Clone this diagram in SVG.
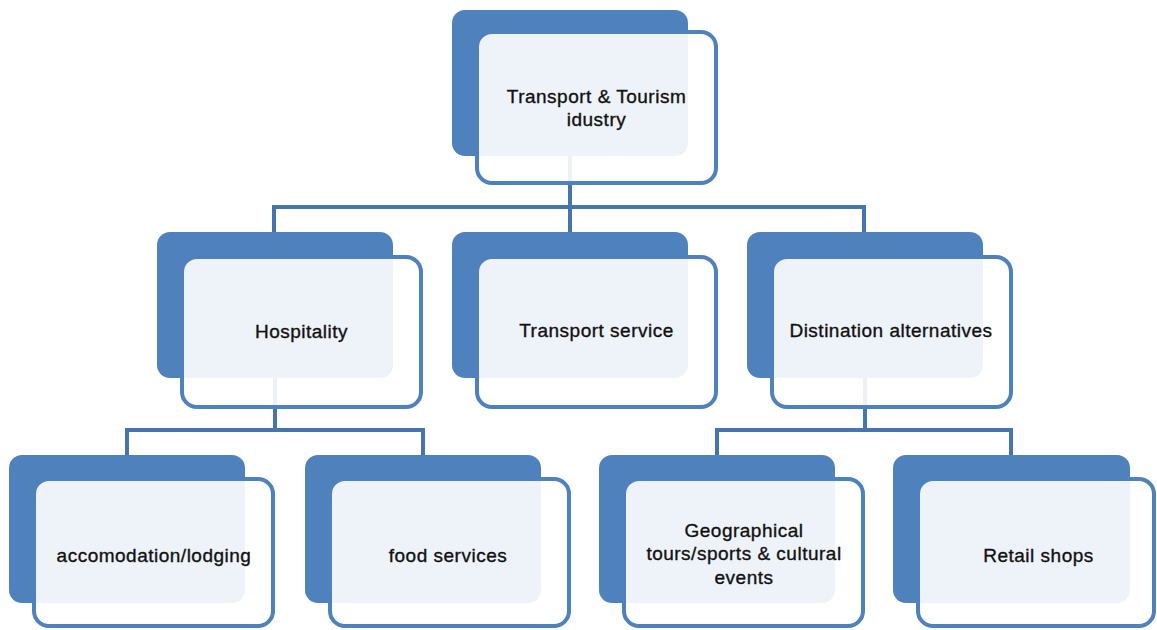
<svg xmlns="http://www.w3.org/2000/svg" width="1157" height="630" viewBox="0 0 1157 630">
<style>
.back{fill:#4F81BD;}
.front{fill:#FFFFFF;fill-opacity:0.9;stroke:#4F81BD;stroke-width:4;}
.conn{fill:none;stroke:#4674AC;stroke-width:4;}
.lbl{font-family:"Liberation Sans",Arial,sans-serif;font-size:19px;letter-spacing:0.5px;fill:#111111;stroke:#111111;stroke-width:0.35;text-anchor:middle;dominant-baseline:central;}
</style>
<rect width="1157" height="630" fill="#FFFFFF"/>
<g id="connectors">
<path class="conn" d="M570,156 V207 M272,207 H866 M274,207 V232 M570,207 V232 M864,207 V232"/>
<path class="conn" d="M275,378 V430 M125,430 H425 M127,430 V455 M423,430 V455"/>
<path class="conn" d="M865,378 V430 M715,430 H1013 M717,430 V455 M1011,430 V455"/>
</g>
<g id="n-top">
<rect class="back" x="452" y="10" width="236" height="146" rx="13"/>
<rect class="front" x="477" y="32" width="239" height="151" rx="15"/>
<text class="lbl" x="596.5" y="96">Transport &amp; Tourism</text>
<text class="lbl" x="596.5" y="119">idustry</text>
</g>
<g id="n-hospitality">
<rect class="back" x="157" y="232" width="236" height="146" rx="13"/>
<rect class="front" x="182" y="257" width="239" height="150" rx="15"/>
<text class="lbl" x="301.5" y="331">Hospitality</text>
</g>
<g id="n-transport">
<rect class="back" x="452" y="232" width="236" height="146" rx="13"/>
<rect class="front" x="477" y="257" width="239" height="150" rx="15"/>
<text class="lbl" x="596.5" y="330">Transport service</text>
</g>
<g id="n-destination">
<rect class="back" x="747" y="232" width="236" height="146" rx="13"/>
<rect class="front" x="772" y="257" width="239" height="150" rx="15"/>
<text class="lbl" x="891" y="330">Distination alternatives</text>
</g>
<g id="n-accomodation">
<rect class="back" x="9" y="455" width="236" height="148" rx="13"/>
<rect class="front" x="34" y="479" width="239" height="147" rx="15"/>
<text class="lbl" x="154" y="555">accomodation/lodging</text>
</g>
<g id="n-food">
<rect class="back" x="305" y="455" width="236" height="148" rx="13"/>
<rect class="front" x="330" y="479" width="239" height="147" rx="15"/>
<text class="lbl" x="448" y="555">food services</text>
</g>
<g id="n-geo">
<rect class="back" x="599" y="455" width="236" height="148" rx="13"/>
<rect class="front" x="624" y="479" width="239" height="147" rx="15"/>
<text class="lbl" x="744" y="530">Geographical</text>
<text class="lbl" x="744" y="553">tours/sports &amp; cultural</text>
<text class="lbl" x="744" y="577">events</text>
</g>
<g id="n-retail">
<rect class="back" x="893" y="455" width="237" height="148" rx="13"/>
<rect class="front" x="918" y="479" width="236" height="147" rx="15"/>
<text class="lbl" x="1038.5" y="555">Retail shops</text>
</g>
</svg>
